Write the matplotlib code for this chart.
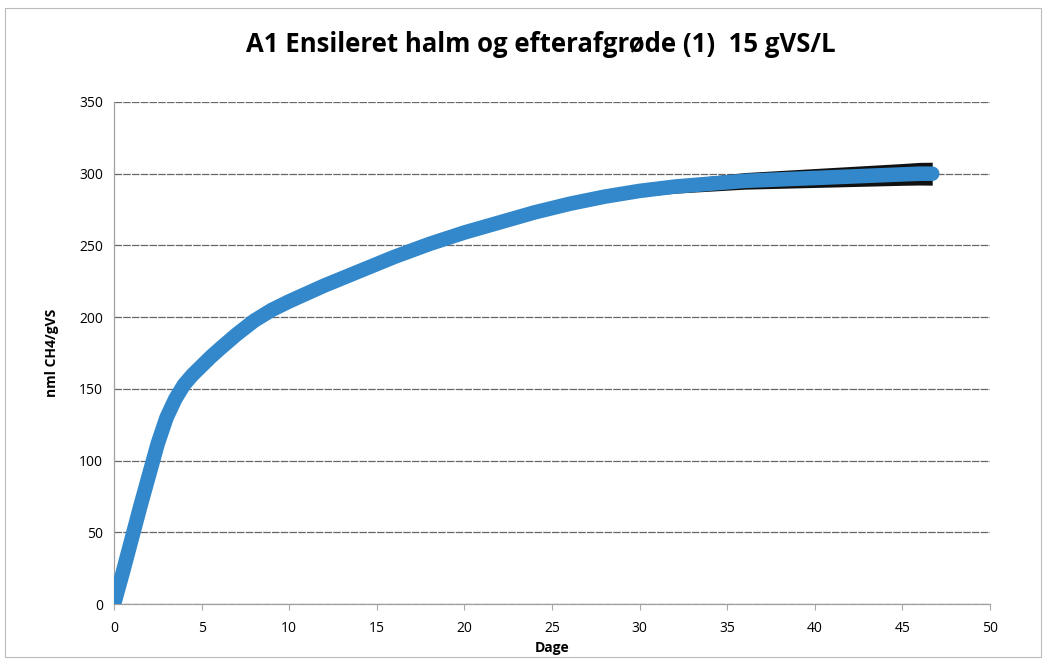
import matplotlib
matplotlib.use("Agg")
import matplotlib.pyplot as plt
from matplotlib.patches import Rectangle
import numpy as np

title = "A1 Ensileret halm og efterafgrøde (1)  15 gVS/L"
xlabel = "Dage"
ylabel = "nml CH4/gVS"

days = [0, 0.5, 1, 1.5, 2, 2.5, 3, 3.5, 4, 4.5, 5, 5.5, 6, 7, 8, 9, 10, 11, 12, 13, 14,
        15, 16, 17, 18, 19, 20, 21, 22, 23, 24, 25, 26, 27, 28, 29, 30, 31, 32, 33,
        34, 35, 36, 37, 38, 39, 40, 41, 42, 43, 44, 45, 46, 46.7]
ch4 = [0, 22, 45, 68, 90, 112, 130, 143, 153, 160, 166, 172, 177.5, 188, 197.5, 205, 211,
       216.5, 222, 227, 232, 237, 242, 246.5, 251, 255, 259, 262.5, 266, 269.5, 273, 276,
       279, 281.5, 284, 286, 288, 289.5, 291, 292, 293, 294, 295, 295.5, 296, 296.5,
       297, 297.5, 298, 298.5, 299, 299.5, 300, 300]
err = [0, 0, 0, 0, 0, 0, 0, 0, 0, 0, 0, 0, 0, 0, 0, 0, 0, 0, 0, 0, 0,
       0, 0, 0, 0, 0, 0, 0, 0, 0, 0, 0, 0, 2, 3, 3.5, 4, 4.3, 4.6, 4.9,
       5.2, 5.5, 5.8, 6.0, 6.2, 6.4, 6.6, 6.8, 7.0, 7.2, 7.4, 7.6, 7.9, 8.0]

xticks = [0, 5, 10, 15, 20, 25, 30, 35, 40, 45, 50]
yticks = [0, 50, 100, 150, 200, 250, 300, 350]

plt.rcParams['font.family'] = ['Open Sans', 'DejaVu Sans']

fig = plt.figure(figsize=(10.46, 6.6), dpi=100)
ax = fig.add_axes([0.109, 0.0848, 0.8375, 0.7607])

x = np.array(days)
y = np.array(ch4)
e = np.array(err)
ax.fill_between(x, y - e, y + e, where=e > 0, color='#111111', lw=0, zorder=2)
ax.plot(x, y, color='#3288ca', lw=10.5, solid_capstyle='round', solid_joinstyle='round', zorder=3)

ax.set_xlim(0, 50)
ax.set_ylim(0, 350)
ax.set_xticks(xticks)
ax.set_yticks(yticks)
ax.tick_params(axis='both', labelsize=10, length=0, pad=8)
ax.tick_params(axis='x', length=4, direction='out', color='#aaaaaa')
ax.grid(axis='y', color='#666666', lw=0.9, ls=(0, (6, 1)))
ax.set_axisbelow(True)
for s in ['top', 'right']:
    ax.spines[s].set_visible(False)
for s in ['left', 'bottom']:
    ax.spines[s].set_color('#a0a0a0')
    ax.spines[s].set_linewidth(0.9)

ax.set_xlabel(xlabel, fontsize=10, fontweight='bold', labelpad=4)
ax.set_ylabel(ylabel, fontsize=10, fontweight='bold', labelpad=14)
fig.text(0.517, 0.932, title, ha='center', va='center', fontsize=18.5, fontweight='bold')

fig.patches.append(Rectangle((0.005, 0.005), 0.99, 0.983, transform=fig.transFigure,
                             fill=False, edgecolor='#bbbbbb', lw=0.8))

fig.savefig("out.png", dpi=100)
